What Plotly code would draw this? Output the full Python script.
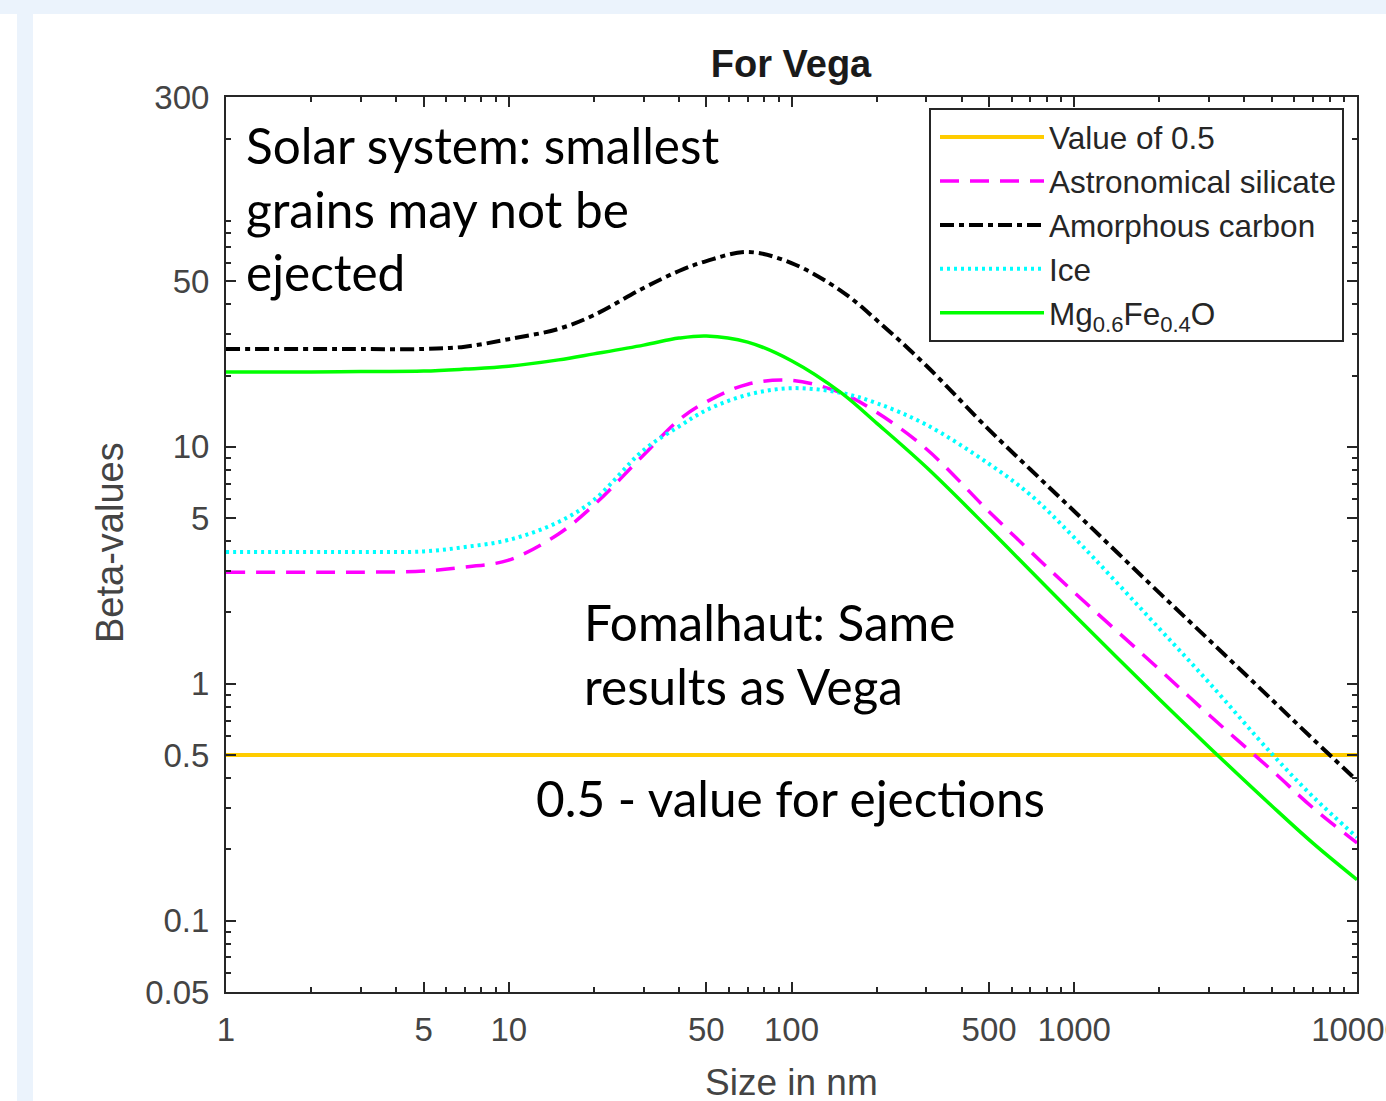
import plotly.graph_objects as go

# ---------------- data ----------------
size_nm = [1, 2, 3, 5, 7, 10, 15, 20, 30, 40, 50, 70, 100, 150, 200, 300, 500, 700,
           1000, 2000, 3000, 5000, 7000, 10000]

beta_silicate = [2.96, 2.96, 2.96, 2.99, 3.11, 3.33, 4.29, 5.68, 9.25, 13.0, 15.5, 18.4,
                 19.1, 16.9, 14.0, 9.8, 5.33, 3.62, 2.43, 1.15, 0.738, 0.431, 0.299, 0.213]
beta_carbon = [25.9, 25.9, 25.9, 25.9, 26.5, 28.5, 31.5, 36.0, 46.9, 55.3, 60.9, 66.5,
               59.7, 45.5, 34.3, 22.0, 11.8, 8.03, 5.35, 2.42, 1.53, 0.857, 0.583, 0.39]
beta_ice = [3.60, 3.60, 3.60, 3.62, 3.78, 4.05, 4.82, 5.97, 9.7, 12.2, 14.3, 16.6,
            17.7, 16.9, 15.3, 12.4, 8.47, 6.27, 4.14, 1.71, 1.01, 0.506, 0.333, 0.225]
beta_mgfeo = [20.7, 20.7, 20.8, 20.9, 21.3, 21.9, 23.3, 24.7, 26.9, 28.8, 29.4, 27.7,
              23.1, 16.9, 12.6, 8.2, 4.50, 3.0, 1.95, 0.86, 0.54, 0.305, 0.212, 0.149]
threshold_x = [1, 10000]
threshold_y = [0.5, 0.5]

x_tickvals = [1, 5, 10, 50, 100, 500, 1000, 10000]
x_ticktext = ["1", "5", "10", "50", "100", "500", "1000", "10000"]
y_tickvals = [0.05, 0.1, 0.5, 1, 5, 10, 50, 300]
y_ticktext = ["0.05", "0.1", "0.5", "1", "5", "10", "50", "300"]

names = ["Value of 0.5", "Astronomical silicate", "Amorphous carbon", "Ice",
         "Mg<sub>0.6</sub>Fe<sub>0.4</sub>O"]

# ---------------- figure ----------------
W, H = 1386, 1101
L, R, T, B = 226, 1357, 97, 992


def px(xp):
    return (xp - L) / (R - L)


def py(yp):
    return (B - yp) / (B - T)


fig = go.Figure()
fig.add_trace(go.Scatter(x=threshold_x, y=threshold_y, mode="lines", name=names[0],
                         line=dict(color="#FFCC00", width=4), legendgroup="a"))
fig.add_trace(go.Scatter(x=size_nm, y=beta_silicate, mode="lines", name=names[1],
                         line=dict(color="#FF00FF", width=3.5, dash="19px,11px", shape="spline"),
                         legendgroup="b"))
fig.add_trace(go.Scatter(x=size_nm, y=beta_carbon, mode="lines", name=names[2],
                         line=dict(color="#000000", width=4, dash="14px,5px,5px,5px", shape="spline"),
                         legendgroup="c"))
fig.add_trace(go.Scatter(x=size_nm, y=beta_ice, mode="lines", name=names[3],
                         line=dict(color="#00FFFF", width=4, dash="3px,4px", shape="spline"),
                         legendgroup="d"))
fig.add_trace(go.Scatter(x=size_nm, y=beta_mgfeo, mode="lines", name=names[4],
                         line=dict(color="#00FF00", width=3.5, shape="spline"),
                         legendgroup="e"))

minor_x = [m * 10 ** d for d in range(0, 4) for m in range(2, 10)]
minor_y = [m * 10 ** d for d in range(-2, 3) for m in range(1, 10)
           if 0.05 <= m * 10 ** d <= 300 and m != 1]

axis_common = dict(
    type="log", showgrid=False, zeroline=False, showline=True, linecolor="#262626",
    linewidth=2, mirror="ticks", ticks="inside", ticklen=10, tickwidth=1.5,
    tickcolor="#262626", tickfont=dict(family="Liberation Sans, Arial", size=33, color="#444444"),
    ticklabeloverflow="allow", automargin=False,
)

fig.update_xaxes(**axis_common, range=[0, 4], tickvals=x_tickvals, ticktext=x_ticktext,
                 ticklabelstandoff=7,
                 minor=dict(tickvals=minor_x, ticks="inside", ticklen=5, tickcolor="#262626",
                            tickwidth=1.5, showgrid=False))
fig.update_yaxes(**axis_common, range=[-1.30103, 2.4771213], tickvals=y_tickvals,
                 ticktext=y_ticktext, ticklabelstandoff=8,
                 minor=dict(tickvals=minor_y, ticks="inside", ticklen=5, tickcolor="#262626",
                            tickwidth=1.5, showgrid=False))

anns = []
txt_font = dict(family="Lato, Carlito, Calibri, sans-serif", size=49.5, color="#000000")
for text, xp, yp in [("Solar system: smallest", 244, 145), ("grains may not be", 244, 209),
                     ("ejected", 244, 272), ("Fomalhaut: Same", 582, 622),
                     ("results as Vega", 582, 686), ("0.5 - value for ejections", 534, 798)]:
    anns.append(dict(text=text, x=px(xp), y=py(yp), xref="paper", yref="paper",
                     xanchor="left", yanchor="middle", showarrow=False, font=txt_font))
# axis titles
anns.append(dict(text="Size in nm", x=px(791), y=py(1082), xref="paper", yref="paper",
                 xanchor="center", yanchor="middle", showarrow=False,
                 font=dict(family="Liberation Sans, Arial", size=37, color="#444444")))
anns.append(dict(text="Beta-values", x=px(110), y=py(543), xref="paper", yref="paper",
                 xanchor="center", yanchor="middle", showarrow=False, textangle=-90,
                 font=dict(family="Liberation Sans, Arial", size=38, color="#444444")))

# slide background bands
shapes = [
    dict(type="rect", xref="paper", yref="paper", x0=px(0), x1=px(W), y0=py(0), y1=py(14),
         fillcolor="#EBF3FC", line=dict(width=0), layer="below"),
    dict(type="rect", xref="paper", yref="paper", x0=px(17), x1=px(33), y0=py(14), y1=py(H),
         fillcolor="#EBF3FC", line=dict(width=0), layer="below"),
]

fig.update_layout(
    width=W, height=H,
    margin=dict(l=L, r=W - R, t=T, b=H - B, pad=0, autoexpand=False),
    paper_bgcolor="white", plot_bgcolor="white",
    title=dict(text="<b>For Vega</b>", x=791 / W, xanchor="center",
               y=1 - 64 / H, yanchor="middle",
               font=dict(family="Liberation Sans, Arial", size=38, color="#1a1a1a")),
    showlegend=True,
    legend=dict(x=px(929), y=py(108), xanchor="left", yanchor="top",
                bgcolor="white", bordercolor="#262626", borderwidth=2,
                font=dict(family="Liberation Sans, Arial", size=31.5, color="#262626"),
                itemwidth=104, indentation=4, traceorder="grouped", tracegroupgap=0),
    annotations=anns, shapes=shapes,
)

fig.write_html("out.html")
